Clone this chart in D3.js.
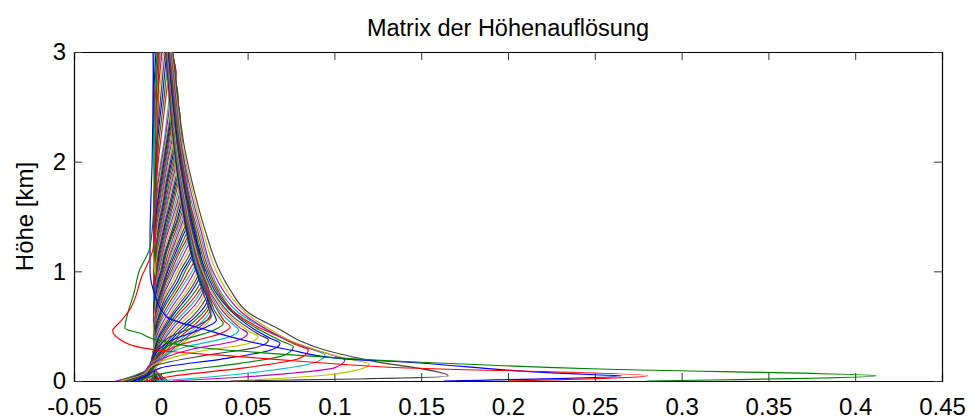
<!DOCTYPE html>
<html><head><meta charset="utf-8">
<script src="https://cdn.jsdelivr.net/npm/d3@7"></script>
<style>
html,body{margin:0;padding:0;background:#fff;}
svg{display:block;}
text{font-family:"Liberation Sans",Arial,sans-serif;fill:#000;}
</style></head>
<body><svg id="chart" width="973" height="419"></svg>
<script>
// ---- chart texts and ticks ----
const chartTitle = "Matrix der Höhenauflösung";
const yLabel = "Höhe [km]";
const xTicks = [-0.05, 0, 0.05, 0.1, 0.15, 0.2, 0.25, 0.3, 0.35, 0.4, 0.45];
const xTickLabels = ["-0.05","0","0.05","0.1","0.15","0.2","0.25","0.3","0.35","0.4","0.45"];
const yTicks = [0, 1, 2, 3];
const yTickLabels = ["0","1","2","3"];
// MATLAB default line colour order (b g r c m y k)
const lineColors = ["#0000ff","#008000","#ff0000","#00bfbf","#bf00bf","#bfbf00","#404040"];

// ---- kernels closest to the ground: [value, height km] pairs (lowest kernel first) ----
const surfaceKernels = [
  [[0.20,0],[0.2805,0.048],[0.132,0.125],[0.084,0.176],[0.0456,0.222],[0.0072,0.267],[-0.012,0.307],[-0.0245,0.39],[-0.0277,0.458],[-0.024,0.53],[-0.0187,0.63],[-0.011,0.95],[-0.0043,1.22],[-0.003,1.6],[-0.002,2.2],[-0.001,3.0]],
  [[0.28,0],[0.412,0.048],[0.253,0.109],[0.132,0.185],[0.0648,0.25],[0.02,0.31],[-0.0024,0.374],[-0.012,0.435],[-0.0207,0.48],[-0.019,0.62],[-0.0155,0.80],[-0.0125,1.0],[-0.0062,1.22],[-0.004,1.6],[-0.003,2.2],[-0.002,3.0]],
  [[0.163,0],[0.2654,0.048],[0.253,0.055],[0.132,0.18],[0.107,0.20],[0.0744,0.283],[0.0514,0.358],[0.0264,0.465],[0.0034,0.586],[-0.0043,0.83],[-0.0062,1.0],[-0.0062,1.3],[-0.005,2.0],[-0.004,3.0]],
  [[0.04,0],[0.1656,0.046],[0.119,0.19],[0.095,0.28],[0.080,0.367],[0.069,0.465],[0.051,0.617],[0.040,0.83],[0.034,1.0],[0.0255,1.376],[0.019,1.75],[0.0134,2.15],[0.010,2.55],[0.007,3.0]]
];

// ---- low kernels with sharp peaks (fan of V shapes) ----
const fanKernels = [
  [[0.042,0],[0.0956,0.055],[0.113,0.10],[0.1201,0.155],[0.108,0.20],[0.090,0.28],[0.076,0.36],[0.064,0.46],[0.049,0.62],[0.039,0.80],[0.032,1.0],[0.024,1.38],[0.018,1.75],[0.0125,2.15],[0.0095,2.55],[0.0065,3.0]],
  [[0.007,0],[0.0456,0.034],[0.0744,0.07],[0.100,0.12],[0.106,0.191],[0.098,0.24],[0.085,0.30],[0.072,0.38],[0.060,0.48],[0.047,0.62],[0.037,0.80],[0.030,1.0],[0.023,1.38],[0.017,1.75],[0.012,2.15],[0.009,2.55],[0.006,3.0]],
  [[-0.0024,0],[0.0264,0.034],[0.0648,0.10],[0.090,0.176],[0.0946,0.237],[0.087,0.29],[0.075,0.36],[0.062,0.46],[0.045,0.62],[0.035,0.80],[0.029,1.0],[0.022,1.38],[0.016,1.75],[0.0115,2.15],[0.0085,2.55],[0.0055,3.0]],
  [[-0.008,0],[0.0072,0.046],[0.0456,0.115],[0.080,0.207],[0.085,0.283],[0.078,0.33],[0.066,0.42],[0.055,0.50],[0.043,0.62],[0.034,0.80],[0.028,1.0],[0.021,1.38],[0.015,1.75],[0.011,2.15],[0.008,2.55],[0.005,3.0]],
  [[-0.012,0],[-0.0062,0.04],[0.0072,0.085],[0.0456,0.161],[0.0715,0.237],[0.0763,0.313],[0.070,0.36],[0.060,0.44],[0.050,0.53],[0.041,0.64],[0.033,0.80],[0.027,1.0],[0.020,1.38],[0.0145,1.75],[0.0105,2.15],[0.0075,2.55],[0.0048,3.0]],
  [[-0.016,0],[-0.008,0.05],[0.0,0.12],[0.035,0.20],[0.063,0.28],[0.0687,0.345],[0.063,0.39],[0.054,0.47],[0.046,0.56],[0.039,0.66],[0.032,0.80],[0.026,1.0],[0.019,1.38],[0.014,1.75],[0.010,2.15],[0.007,2.55],[0.0045,3.0]],
  [[-0.020,0],[-0.009,0.06],[-0.003,0.14],[0.028,0.24],[0.056,0.31],[0.062,0.375],[0.057,0.42],[0.049,0.50],[0.042,0.58],[0.036,0.68],[0.030,0.82],[0.025,1.0],[0.018,1.38],[0.0135,1.75],[0.0095,2.15],[0.0068,2.55],[0.0042,3.0]],
  [[-0.023,0],[-0.010,0.06],[-0.004,0.15],[0.022,0.27],[0.050,0.34],[0.056,0.405],[0.051,0.45],[0.045,0.52],[0.039,0.60],[0.034,0.70],[0.029,0.83],[0.024,1.0],[0.0175,1.38],[0.013,1.75],[0.009,2.15],[0.0065,2.55],[0.004,3.0]],
  [[-0.026,0],[-0.012,0.05],[-0.005,0.16],[0.018,0.29],[0.044,0.37],[0.050,0.435],[0.046,0.48],[0.041,0.55],[0.036,0.63],[0.032,0.72],[0.027,0.85],[0.023,1.0],[0.017,1.38],[0.0125,1.75],[0.0088,2.15],[0.0062,2.55],[0.0038,3.0]],
  [[-0.024,0],[-0.011,0.05],[-0.005,0.17],[0.014,0.31],[0.039,0.40],[0.045,0.465],[0.042,0.51],[0.037,0.58],[0.033,0.66],[0.030,0.75],[0.026,0.87],[0.022,1.0],[0.0165,1.38],[0.012,1.75],[0.0085,2.15],[0.006,2.55],[0.0036,3.0]],
  [[-0.022,0],[-0.010,0.05],[-0.005,0.18],[0.011,0.33],[0.034,0.43],[0.040,0.495],[0.037,0.54],[0.034,0.61],[0.031,0.69],[0.028,0.78],[0.025,0.89],[0.0215,1.02],[0.016,1.38],[0.0118,1.75],[0.0083,2.15],[0.0058,2.55],[0.0034,3.0]],
  [[-0.019,0],[-0.009,0.05],[-0.005,0.19],[0.008,0.35],[0.030,0.46],[0.036,0.525],[0.034,0.57],[0.031,0.64],[0.029,0.72],[0.026,0.81],[0.0235,0.91],[0.0205,1.04],[0.0155,1.38],[0.0115,1.75],[0.008,2.15],[0.0056,2.55],[0.0032,3.0]],
  [[-0.016,0],[-0.008,0.05],[-0.005,0.20],[0.006,0.37],[0.026,0.49],[0.032,0.555],[0.031,0.60],[0.029,0.67],[0.027,0.75],[0.0245,0.84],[0.022,0.94],[0.0195,1.06],[0.015,1.38],[0.011,1.75],[0.0078,2.15],[0.0054,2.55],[0.003,3.0]],
  [[-0.013,0],[-0.007,0.05],[-0.005,0.20],[0.004,0.39],[0.023,0.52],[0.029,0.59],[0.028,0.64],[0.027,0.70],[0.025,0.78],[0.023,0.87],[0.021,0.97],[0.0185,1.09],[0.0145,1.38],[0.0108,1.75],[0.0075,2.15],[0.0052,2.55],[0.0028,3.0]]
];

// ---- broad upper kernels: values at the common height grid (lowest first) ----
const gridHeights = [0,0.05,0.1,0.2,0.3,0.4,0.5,0.6,0.7,0.8,0.9,1.0,1.15,1.3,1.45,1.6,1.8,2.0,2.2,2.4,2.6,2.8,3.0];
const broadKernels = [
  [-0.010,-0.006,-0.004,0.002,0.009,0.017,0.025,0.0295,0.029,0.026,0.0235,0.021,0.018,0.0155,0.0135,0.0118,0.0098,0.0082,0.0068,0.0056,0.0046,0.0037,0.003],
  [-0.009,-0.006,-0.004,0.001,0.0075,0.015,0.023,0.0285,0.0292,0.0268,0.024,0.0215,0.0185,0.0159,0.0138,0.0121,0.010,0.0084,0.007,0.0058,0.0047,0.0038,0.003],
  [-0.007,-0.005,-0.004,0.000,0.006,0.013,0.021,0.027,0.029,0.027,0.0245,0.022,0.019,0.0163,0.0142,0.0124,0.0103,0.0086,0.0071,0.0059,0.0048,0.0039,0.0031],
  [-0.005,-0.0045,-0.004,-0.001,0.0045,0.011,0.0185,0.025,0.0285,0.0278,0.0252,0.0225,0.0195,0.0166,0.0145,0.0126,0.0105,0.0088,0.0072,0.006,0.0049,0.0039,0.0031],
  [-0.004,-0.004,-0.004,-0.002,0.003,0.009,0.016,0.023,0.0275,0.028,0.026,0.023,0.020,0.017,0.0148,0.0129,0.0108,0.009,0.0074,0.0061,0.005,0.004,0.0032],
  [-0.003,-0.0035,-0.004,-0.0025,0.002,0.0075,0.014,0.021,0.026,0.0278,0.0262,0.0235,0.0205,0.0175,0.0152,0.0132,0.011,0.0092,0.0075,0.0062,0.0051,0.0041,0.0032],
  [-0.001,-0.003,-0.004,-0.003,0.001,0.006,0.012,0.019,0.024,0.027,0.0265,0.024,0.021,0.018,0.0155,0.0135,0.0112,0.0093,0.0077,0.0063,0.0052,0.0042,0.0033],
  [0.000,-0.002,-0.004,-0.0035,0.000,0.0045,0.010,0.0165,0.022,0.0255,0.0265,0.0245,0.0213,0.0183,0.0157,0.0137,0.0114,0.0094,0.0078,0.0064,0.0053,0.0042,0.0033],
  [0.002,-0.001,-0.004,-0.004,-0.001,0.003,0.008,0.014,0.020,0.024,0.026,0.0245,0.0215,0.0185,0.016,0.014,0.0116,0.0096,0.008,0.0066,0.0054,0.0043,0.0034],
  [0.003,-0.0005,-0.0035,-0.004,-0.0015,0.002,0.0065,0.012,0.018,0.0225,0.0255,0.025,0.022,0.0188,0.0162,0.0142,0.0118,0.0097,0.0081,0.0067,0.0054,0.0044,0.0034],
  [0.004,0.000,-0.003,-0.004,-0.002,0.001,0.005,0.010,0.016,0.021,0.0245,0.025,0.022,0.019,0.0165,0.0144,0.012,0.0099,0.0082,0.0068,0.0055,0.0044,0.0035],
  [-0.025,-0.015,-0.008,-0.0045,-0.0025,0.000,0.004,0.0085,0.014,0.019,0.023,0.0245,0.0225,0.0193,0.0168,0.0146,0.0121,0.0101,0.0084,0.0069,0.0056,0.0045,0.0035],
  [-0.022,-0.013,-0.007,-0.005,-0.003,-0.001,0.003,0.007,0.012,0.017,0.021,0.0235,0.0225,0.0195,0.017,0.0148,0.0123,0.0102,0.0085,0.007,0.0057,0.0046,0.0036],
  [-0.020,-0.012,-0.0065,-0.005,-0.0035,-0.0015,0.002,0.006,0.0105,0.0155,0.0195,0.0222,0.0228,0.0198,0.0172,0.015,0.0125,0.0104,0.0086,0.0071,0.0058,0.0046,0.0036],
  [-0.018,-0.011,-0.006,-0.005,-0.004,-0.002,0.001,0.005,0.009,0.014,0.018,0.021,0.0228,0.020,0.0175,0.0152,0.0127,0.0105,0.0087,0.0072,0.0059,0.0047,0.0037],
  [-0.016,-0.010,-0.006,-0.005,-0.004,-0.0025,0.000,0.0035,0.0075,0.012,0.016,0.0195,0.0224,0.0202,0.0178,0.0155,0.0128,0.0106,0.0088,0.0073,0.0059,0.0047,0.0037],
  [-0.014,-0.009,-0.006,-0.005,-0.004,-0.003,-0.001,0.002,0.006,0.010,0.014,0.018,0.0218,0.0205,0.018,0.0157,0.013,0.0108,0.009,0.0074,0.006,0.0048,0.0038],
  [-0.012,-0.0085,-0.0055,-0.0045,-0.0035,-0.003,-0.0015,0.001,0.0045,0.0085,0.0125,0.016,0.0205,0.0207,0.0183,0.0158,0.0132,0.011,0.0091,0.0075,0.0061,0.0049,0.0039],
  [-0.011,-0.008,-0.005,-0.004,-0.003,-0.003,-0.002,0.000,0.003,0.007,0.011,0.014,0.019,0.0208,0.0185,0.016,0.0134,0.0111,0.0092,0.0076,0.0062,0.0049,0.0039],
  [-0.0095,-0.0075,-0.005,-0.004,-0.0035,-0.003,-0.0025,-0.0005,0.002,0.0055,0.0095,0.0125,0.018,0.0204,0.0186,0.0162,0.0136,0.0113,0.0093,0.0077,0.0063,0.005,0.0039],
  [-0.008,-0.007,-0.005,-0.004,-0.004,-0.003,-0.003,-0.001,0.001,0.004,0.008,0.011,0.0165,0.0198,0.0185,0.0163,0.0137,0.0114,0.0094,0.0078,0.0063,0.005,0.004],
  [-0.0065,-0.006,-0.005,-0.004,-0.0035,-0.003,-0.003,-0.0015,0.0005,0.003,0.0065,0.0095,0.0148,0.0188,0.0188,0.0166,0.0139,0.0116,0.0096,0.0079,0.0064,0.0051,0.004],
  [-0.005,-0.005,-0.005,-0.004,-0.003,-0.003,-0.003,-0.002,0.000,0.002,0.005,0.008,0.013,0.0175,0.019,0.0168,0.014,0.0117,0.0097,0.008,0.0065,0.0052,0.0041],
  [-0.0035,-0.0045,-0.005,-0.004,-0.004,-0.0035,-0.003,-0.0025,-0.0005,0.0015,0.004,0.007,0.0115,0.0162,0.0186,0.0168,0.0141,0.0119,0.0099,0.0081,0.0066,0.0052,0.0041],
  [-0.002,-0.004,-0.005,-0.004,-0.004,-0.004,-0.003,-0.003,-0.001,0.001,0.003,0.006,0.010,0.015,0.018,0.0168,0.0142,0.012,0.010,0.0082,0.0066,0.0053,0.0042],
  [-0.0005,-0.0035,-0.005,-0.004,-0.0035,-0.0035,-0.003,-0.003,-0.0015,0.0005,0.0025,0.005,0.009,0.0135,0.017,0.0169,0.0144,0.0121,0.0101,0.0083,0.0067,0.0053,0.0042],
  [0.001,-0.003,-0.005,-0.004,-0.003,-0.003,-0.003,-0.003,-0.002,0.000,0.002,0.004,0.008,0.012,0.016,0.0170,0.0145,0.0122,0.0102,0.0084,0.0068,0.0054,0.0043],
  [0.002,-0.002,-0.0045,-0.0045,-0.0035,-0.0035,-0.0035,-0.003,-0.0025,-0.0005,0.0015,0.0035,0.007,0.011,0.0148,0.0167,0.0147,0.0124,0.0103,0.0085,0.0069,0.0055,0.0043],
  [0.003,-0.001,-0.004,-0.005,-0.004,-0.004,-0.004,-0.003,-0.003,-0.001,0.001,0.003,0.006,0.010,0.0135,0.0163,0.0148,0.0125,0.0104,0.0086,0.007,0.0056,0.0044],
  [-0.022,-0.013,-0.0075,-0.005,-0.004,-0.004,-0.0035,-0.003,-0.003,-0.0015,0.0005,0.0025,0.0055,0.009,0.0125,0.0155,0.0152,0.0127,0.0106,0.0087,0.0071,0.0056,0.0044],
  [-0.020,-0.012,-0.007,-0.005,-0.003,-0.003,-0.003,-0.003,-0.003,-0.002,0.000,0.002,0.005,0.008,0.0115,0.0145,0.0155,0.0128,0.0107,0.0088,0.0072,0.0057,0.0045],
  [-0.018,-0.011,-0.0065,-0.005,-0.0035,-0.0035,-0.0035,-0.003,-0.003,-0.002,-0.0005,0.0015,0.004,0.007,0.0105,0.0135,0.0153,0.0129,0.0108,0.0089,0.0072,0.0057,0.0045],
  [-0.016,-0.010,-0.006,-0.005,-0.004,-0.004,-0.004,-0.003,-0.003,-0.002,-0.001,0.001,0.003,0.006,0.0095,0.0125,0.015,0.013,0.0109,0.009,0.0073,0.0058,0.0046],
  [-0.014,-0.009,-0.006,-0.0045,-0.0035,-0.0035,-0.0035,-0.003,-0.003,-0.0025,-0.0015,0.0005,0.0025,0.0055,0.009,0.0115,0.0145,0.0131,0.011,0.0091,0.0074,0.0058,0.0046],
  [-0.012,-0.008,-0.006,-0.004,-0.003,-0.003,-0.003,-0.003,-0.003,-0.003,-0.002,0.000,0.002,0.005,0.008,0.0105,0.0138,0.0132,0.0111,0.0092,0.0075,0.0059,0.0047],
  [-0.010,-0.0075,-0.0055,-0.0045,-0.0035,-0.0035,-0.0035,-0.0035,-0.003,-0.003,-0.002,-0.0005,0.0015,0.004,0.007,0.0098,0.0129,0.0134,0.0113,0.0093,0.0075,0.0059,0.0047],
  [-0.008,-0.007,-0.005,-0.004,-0.004,-0.004,-0.004,-0.004,-0.003,-0.003,-0.002,-0.001,0.001,0.003,0.006,0.009,0.012,0.0135,0.0114,0.0094,0.0076,0.006,0.0047],
  [-0.006,-0.006,-0.005,-0.004,-0.0035,-0.0035,-0.0035,-0.0035,-0.003,-0.003,-0.0025,-0.0015,0.0005,0.0025,0.005,0.008,0.011,0.0133,0.0116,0.0096,0.0077,0.0061,0.0048],
  [-0.004,-0.005,-0.005,-0.004,-0.003,-0.003,-0.003,-0.003,-0.003,-0.003,-0.003,-0.002,0.000,0.002,0.0045,0.007,0.010,0.0131,0.0117,0.0097,0.0078,0.0062,0.0048],
  [-0.0025,-0.0045,-0.005,-0.0045,-0.0035,-0.0035,-0.0035,-0.0035,-0.0035,-0.003,-0.003,-0.002,-0.0005,0.0015,0.0038,0.0062,0.0092,0.0123,0.012,0.0098,0.0079,0.0062,0.0049],
  [-0.001,-0.004,-0.005,-0.005,-0.004,-0.004,-0.004,-0.004,-0.004,-0.003,-0.003,-0.002,-0.001,0.001,0.003,0.0055,0.0085,0.0115,0.0122,0.0099,0.008,0.0063,0.0049],
  [0.0005,-0.003,-0.0045,-0.0045,-0.0035,-0.0035,-0.0035,-0.0035,-0.0035,-0.0035,-0.003,-0.0025,-0.0015,0.0005,0.0025,0.0048,0.0078,0.0108,0.0121,0.0101,0.0081,0.0064,0.005],
  [0.002,-0.002,-0.004,-0.004,-0.003,-0.003,-0.003,-0.003,-0.003,-0.003,-0.003,-0.003,-0.002,0.000,0.002,0.004,0.007,0.010,0.012,0.0102,0.0082,0.0065,0.005],
  [-0.023,-0.013,-0.0065,-0.0045,-0.0035,-0.0035,-0.0035,-0.0035,-0.0035,-0.0035,-0.003,-0.003,-0.002,-0.0005,0.0015,0.0035,0.0062,0.0092,0.0115,0.0107,0.0084,0.0066,0.0051],
  [-0.024,-0.014,-0.007,-0.005,-0.004,-0.004,-0.004,-0.004,-0.004,-0.004,-0.003,-0.003,-0.002,-0.001,0.001,0.003,0.0055,0.0085,0.011,0.0112,0.0086,0.0067,0.0051],
  [-0.021,-0.013,-0.007,-0.0045,-0.0035,-0.0035,-0.0035,-0.0035,-0.0035,-0.0035,-0.0035,-0.003,-0.0025,-0.0015,0.0005,0.0025,0.0048,0.0078,0.0102,0.0111,0.0088,0.0068,0.0052],
  [-0.019,-0.012,-0.007,-0.004,-0.003,-0.003,-0.003,-0.003,-0.003,-0.003,-0.003,-0.003,-0.003,-0.002,0.000,0.002,0.004,0.007,0.0095,0.011,0.009,0.007,0.0053],
  [-0.016,-0.0105,-0.0065,-0.0045,-0.0035,-0.0035,-0.0035,-0.0035,-0.0035,-0.0035,-0.0035,-0.003,-0.003,-0.002,-0.0005,0.0015,0.0035,0.0062,0.0088,0.0105,0.0094,0.0072,0.0054],
  [-0.014,-0.009,-0.006,-0.005,-0.004,-0.004,-0.004,-0.004,-0.004,-0.004,-0.004,-0.003,-0.003,-0.002,-0.001,0.001,0.003,0.0055,0.008,0.010,0.0098,0.0074,0.0055],
  [-0.0115,-0.008,-0.0055,-0.0045,-0.0035,-0.0035,-0.0035,-0.0035,-0.0035,-0.0035,-0.0035,-0.0035,-0.003,-0.0025,-0.0015,0.0005,0.0025,0.0048,0.0072,0.0092,0.0099,0.0076,0.0056],
  [-0.009,-0.007,-0.005,-0.004,-0.003,-0.003,-0.003,-0.003,-0.003,-0.003,-0.003,-0.003,-0.003,-0.003,-0.002,0.000,0.002,0.004,0.0065,0.0085,0.0098,0.0078,0.0057],
  [-0.0065,-0.006,-0.005,-0.0045,-0.0035,-0.0035,-0.0035,-0.0035,-0.0035,-0.0035,-0.0035,-0.0035,-0.003,-0.003,-0.002,-0.0005,0.0015,0.0035,0.0058,0.0078,0.0094,0.0083,0.0059],
  [-0.004,-0.005,-0.005,-0.005,-0.004,-0.004,-0.004,-0.004,-0.004,-0.004,-0.004,-0.004,-0.003,-0.003,-0.002,-0.001,0.001,0.003,0.005,0.007,0.0088,0.0088,0.0060],
  [-0.0015,-0.004,-0.0045,-0.0045,-0.0035,-0.0035,-0.0035,-0.0035,-0.0035,-0.0035,-0.0035,-0.0035,-0.0035,-0.003,-0.0025,-0.0015,0.0005,0.0025,0.0045,0.0065,0.0082,0.0087,0.0062],
  [0.001,-0.003,-0.004,-0.004,-0.003,-0.003,-0.003,-0.003,-0.003,-0.003,-0.003,-0.003,-0.003,-0.003,-0.003,-0.002,0.000,0.002,0.004,0.006,0.0075,0.0085,0.0064],
  [0.0025,-0.002,-0.004,-0.0045,-0.0035,-0.0035,-0.0035,-0.0035,-0.0035,-0.0035,-0.0035,-0.0035,-0.0035,-0.003,-0.003,-0.002,-0.0005,0.0015,0.0035,0.0055,0.007,0.0082,0.0066],
  [0.004,-0.001,-0.004,-0.005,-0.004,-0.004,-0.004,-0.004,-0.004,-0.004,-0.004,-0.004,-0.004,-0.003,-0.003,-0.002,-0.001,0.001,0.003,0.005,0.0065,0.0078,0.0068],
  [-0.019,-0.011,-0.0055,-0.0045,-0.0035,-0.0035,-0.0035,-0.0035,-0.0035,-0.0035,-0.0035,-0.0035,-0.0035,-0.0035,-0.003,-0.0025,-0.0015,0.0005,0.0025,0.0042,0.0058,0.007,0.0067],
  [-0.021,-0.012,-0.006,-0.004,-0.003,-0.003,-0.003,-0.003,-0.003,-0.003,-0.003,-0.003,-0.003,-0.003,-0.003,-0.003,-0.002,0.000,0.002,0.0035,0.005,0.0062,0.0066],
  [-0.015,-0.010,-0.006,-0.005,-0.004,-0.004,-0.004,-0.004,-0.004,-0.004,-0.004,-0.004,-0.004,-0.004,-0.0035,-0.003,-0.0025,-0.0015,0.000,0.0015,0.003,0.0045,0.0055],
  [-0.010,-0.008,-0.005,-0.004,-0.003,-0.003,-0.003,-0.003,-0.003,-0.003,-0.003,-0.003,-0.003,-0.003,-0.003,-0.003,-0.003,-0.002,-0.001,0.0005,0.002,0.0033,0.0045],
  [-0.005,-0.006,-0.005,-0.005,-0.004,-0.004,-0.004,-0.004,-0.004,-0.004,-0.004,-0.004,-0.004,-0.004,-0.004,-0.004,-0.0035,-0.0028,-0.0018,-0.0005,0.001,0.0022,0.0035],
  [0.000,-0.004,-0.005,-0.004,-0.003,-0.003,-0.003,-0.003,-0.003,-0.003,-0.003,-0.003,-0.003,-0.003,-0.003,-0.003,-0.003,-0.0032,-0.0024,-0.0012,0.000,0.0012,0.0025],
  [0.003,-0.002,-0.004,-0.005,-0.004,-0.004,-0.004,-0.004,-0.004,-0.004,-0.004,-0.004,-0.004,-0.004,-0.004,-0.004,-0.004,-0.0036,-0.003,-0.002,-0.001,0.0003,0.0015],
  [-0.018,-0.011,-0.006,-0.004,-0.003,-0.003,-0.003,-0.003,-0.003,-0.003,-0.003,-0.003,-0.003,-0.003,-0.003,-0.003,-0.003,-0.003,-0.003,-0.0028,-0.0018,-0.0006,0.0006],
  [-0.013,-0.009,-0.006,-0.005,-0.004,-0.004,-0.004,-0.004,-0.004,-0.004,-0.004,-0.004,-0.004,-0.004,-0.004,-0.004,-0.004,-0.004,-0.0038,-0.0033,-0.0025,-0.0014,-0.0003],
  [-0.008,-0.007,-0.005,-0.004,-0.003,-0.003,-0.003,-0.003,-0.003,-0.003,-0.003,-0.003,-0.003,-0.003,-0.003,-0.003,-0.003,-0.003,-0.0035,-0.0036,-0.0031,-0.0022,-0.0012],
  [-0.003,-0.005,-0.005,-0.005,-0.004,-0.004,-0.004,-0.004,-0.004,-0.004,-0.004,-0.004,-0.004,-0.004,-0.004,-0.004,-0.004,-0.004,-0.004,-0.004,-0.0036,-0.003,-0.002],
  [0.001,-0.003,-0.005,-0.004,-0.003,-0.003,-0.003,-0.003,-0.003,-0.003,-0.003,-0.003,-0.003,-0.003,-0.003,-0.003,-0.003,-0.003,-0.0035,-0.004,-0.004,-0.0035,-0.0028],
  [0.004,-0.001,-0.004,-0.005,-0.004,-0.004,-0.004,-0.004,-0.004,-0.004,-0.004,-0.004,-0.004,-0.004,-0.004,-0.004,-0.004,-0.004,-0.004,-0.0042,-0.0044,-0.0044,-0.0045]
];

// ---- layout ----
const W = 973, H = 419;
const margin = {left: 74, right: 31, top: 52, bottom: 38};
const plotL = margin.left, plotR = W - margin.right, plotT = margin.top, plotB = H - margin.bottom;

const x = d3.scaleLinear().domain([-0.05, 0.45]).range([plotL, plotR]);
const y = d3.scaleLinear().domain([0, 3]).range([plotB, plotT]);

const svg = d3.select("#chart");
svg.append("rect").attr("width", W).attr("height", H).attr("fill", "#fff");

// all kernels, lowest first
const allKernels = surfaceKernels
  .concat(fanKernels)
  .concat(broadKernels.map(row => row.map((v, i) => [v, gridHeights[i]])));
const nK = allKernels.length;
// colour of kernel j (counted from the ground): surface kernel red, then green, blue, black, yellow ...
const colorOf = j => lineColors[(((2 - j) % 7) + 7) % 7];

// axes (inward ticks, box)
const fontSize = 24;
const tickLen = 8;
const axB = d3.axisBottom(x).tickValues(xTicks).tickSize(-tickLen).tickPadding(17)
  .tickFormat((d, i) => xTickLabels[i]);
const axT = d3.axisTop(x).tickValues(xTicks).tickSize(-tickLen).tickFormat("");
const axL = d3.axisLeft(y).tickValues(yTicks).tickSize(-tickLen).tickPadding(8)
  .tickFormat((d, i) => yTickLabels[i]);
const axR = d3.axisRight(y).tickValues(yTicks).tickSize(-tickLen).tickFormat("");

function styleAxis(g) {
  g.select(".domain").attr("stroke", "#000").attr("stroke-width", 1.2);
  g.selectAll(".tick line").attr("stroke", "#333").attr("stroke-width", 1);
  g.selectAll(".tick text").attr("font-size", fontSize)
    .attr("font-family", "'Liberation Sans', Arial, sans-serif").attr("fill", "#000");
}
svg.append("g").attr("transform", `translate(0,${plotB})`).call(axB).call(styleAxis);
svg.append("g").attr("transform", `translate(0,${plotT})`).call(axT).call(styleAxis);
svg.append("g").attr("transform", `translate(${plotL},0)`).call(axL).call(styleAxis);
svg.append("g").attr("transform", `translate(${plotR},0)`).call(axR).call(styleAxis);

// lines: plotted from the highest kernel down to the surface kernel
svg.append("clipPath").attr("id", "plotclip").append("rect")
  .attr("x", plotL).attr("y", plotT - 1).attr("width", plotR - plotL).attr("height", plotB - plotT + 2);
const line = d3.line().x(d => x(d[0])).y(d => y(d[1])).curve(d3.curveMonotoneY);
const gLines = svg.append("g").attr("clip-path", "url(#plotclip)");
for (let j = nK - 1; j >= 0; j--) {
  gLines.append("path")
    .attr("d", line(allKernels[j]))
    .attr("fill", "none")
    .attr("stroke", colorOf(j))
    .attr("stroke-width", 1.15)
    .attr("stroke-linejoin", "round");
}

// title and y label
svg.append("text").attr("x", (plotL + plotR) / 2).attr("y", 36)
  .attr("text-anchor", "middle").attr("font-size", 23.5).text(chartTitle);
svg.append("text").attr("transform", `translate(33,${(plotT + plotB) / 2}) rotate(-90)`)
  .attr("text-anchor", "middle").attr("font-size", fontSize).text(yLabel);
</script></body></html>
